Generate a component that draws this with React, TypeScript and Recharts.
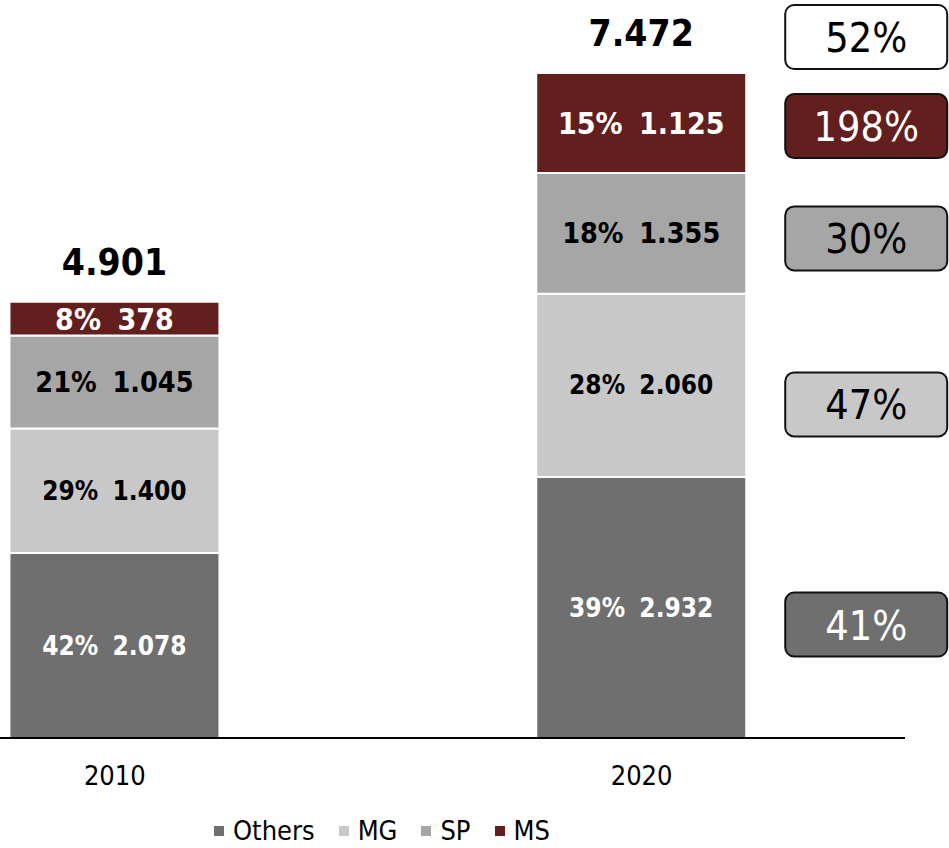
import { BarChart, Bar, XAxis, YAxis, LabelList } from 'recharts';

const years = [2010, 2020];
const others = [2078, 2932];
const mg = [1400, 2060];
const sp = [1045, 1355];
const ms = [378, 1125];

const FONT = '"DejaVu Sans Condensed", "DejaVu Sans", Tahoma, sans-serif';

const SERIES = [
  { key: 'others', name: 'Others', values: others, color: '#6f6f6f', text: '#fff', boxText: '#fff', boxShift: 17, size: 26 },
  { key: 'mg', name: 'MG', values: mg, color: '#c8c8c8', text: '#000', boxText: '#000', boxShift: 19, size: 26 },
  { key: 'sp', name: 'SP', values: sp, color: '#a6a6a6', text: '#000', boxText: '#000', boxShift: 5, size: 28.5 },
  { key: 'ms', name: 'MS', values: ms, color: '#631f1e', text: '#fff', boxText: '#fff', boxShift: 3, size: 30 },
];

const totals = years.map((_, i) => SERIES.reduce((acc, s) => acc + s.values[i], 0));

const data = years.map((year, i) => {
  const row: Record<string, number> = { year, total: totals[i] };
  SERIES.forEach((s) => (row[s.key] = s.values[i]));
  return row;
});

// growth 2010 -> 2020 in %
const growth = (a: number, b: number) => Math.round((b / a - 1) * 100);

function fmt(n: number) {
  return String(n).replace(/\B(?=(\d{3})+(?!\d))/g, '.');
}

function GrowthBox({ x, cy, pct, fill, color }: { x: number; cy: number; pct: number; fill: string; color: string }) {
  return (
    <g>
      <rect x={x} y={cy - 32} width={162} height={64} rx={9} ry={9} fill={fill} stroke="#111" strokeWidth={2} />
      <text x={x + 81} y={cy + 1} textAnchor="middle" dominantBaseline="central" fontFamily={FONT} fontSize={41} fill={color}>
        {pct}%
      </text>
    </g>
  );
}

function makeLabel(s: (typeof SERIES)[number], isTop: boolean) {
  return (props: any) => {
    const { x, y, width, height, index } = props;
    const v = s.values[index];
    const share = Math.round((v / totals[index]) * 100);
    const cx = x + width / 2;
    const cy = y + height / 2;
    return (
      <g>
        <text x={cx} y={cy} textAnchor="middle" dominantBaseline="central" fontFamily={FONT} fontWeight="bold" fontSize={s.size} fill={s.text}>
          <tspan>{share}%</tspan>
          <tspan dx={s.size * 0.55}>{fmt(v)}</tspan>
        </text>
        {isTop && (
          <text x={cx} y={y - 39} textAnchor="middle" dominantBaseline="central" fontFamily={FONT} fontWeight="bold" fontSize={37} fill="#000">
            {fmt(totals[index])}
          </text>
        )}
        {index === 1 && (
          <GrowthBox x={x + width + 39} cy={cy + s.boxShift} pct={growth(s.values[0], v)} fill={s.color} color={s.boxText} />
        )}
        {index === 1 && isTop && (
          <GrowthBox x={x + width + 39} cy={y - 36} pct={growth(totals[0], totals[1])} fill="#fff" color="#000" />
        )}
      </g>
    );
  };
}

export default function App() {
  return (
    <div style={{ position: 'absolute', left: 0, top: 0, width: 949, height: 848, background: '#fff' }}>
      <BarChart width={949} height={848} data={data} margin={{ top: 26, right: 44, bottom: 50, left: 0 }}>
        <YAxis hide domain={[0, 8000]} />
        <XAxis
          type="number"
          dataKey="year"
          domain={[2007.82, 2025]}
          ticks={years}
          allowDataOverflow
          height={60}
          axisLine={{ stroke: '#000', strokeWidth: 2 }}
          tickLine={false}
          tickMargin={22}
          tick={{ fill: '#000', fontSize: 27, fontFamily: FONT }}
        />
        {SERIES.map((s, i) => (
          <Bar key={s.key} dataKey={s.key} name={s.name} stackId="a" fill={s.color} stroke="#fff" strokeWidth={2} barSize={210} isAnimationActive={false}>
            <LabelList dataKey={s.key} content={makeLabel(s, i === SERIES.length - 1)} />
          </Bar>
        ))}
      </BarChart>
      <div
        style={{
          position: 'absolute',
          left: 214,
          top: 815,
          display: 'flex',
          alignItems: 'center',
          fontFamily: FONT,
          fontSize: 27,
          color: '#000',
        }}
      >
        {SERIES.map((s) => (
          <div key={s.key} style={{ display: 'flex', alignItems: 'center', marginRight: 24 }}>
            <span style={{ display: 'inline-block', width: 10, height: 10, background: s.color, marginRight: 9 }} />
            <span>{s.name}</span>
          </div>
        ))}
      </div>
    </div>
  );
}
